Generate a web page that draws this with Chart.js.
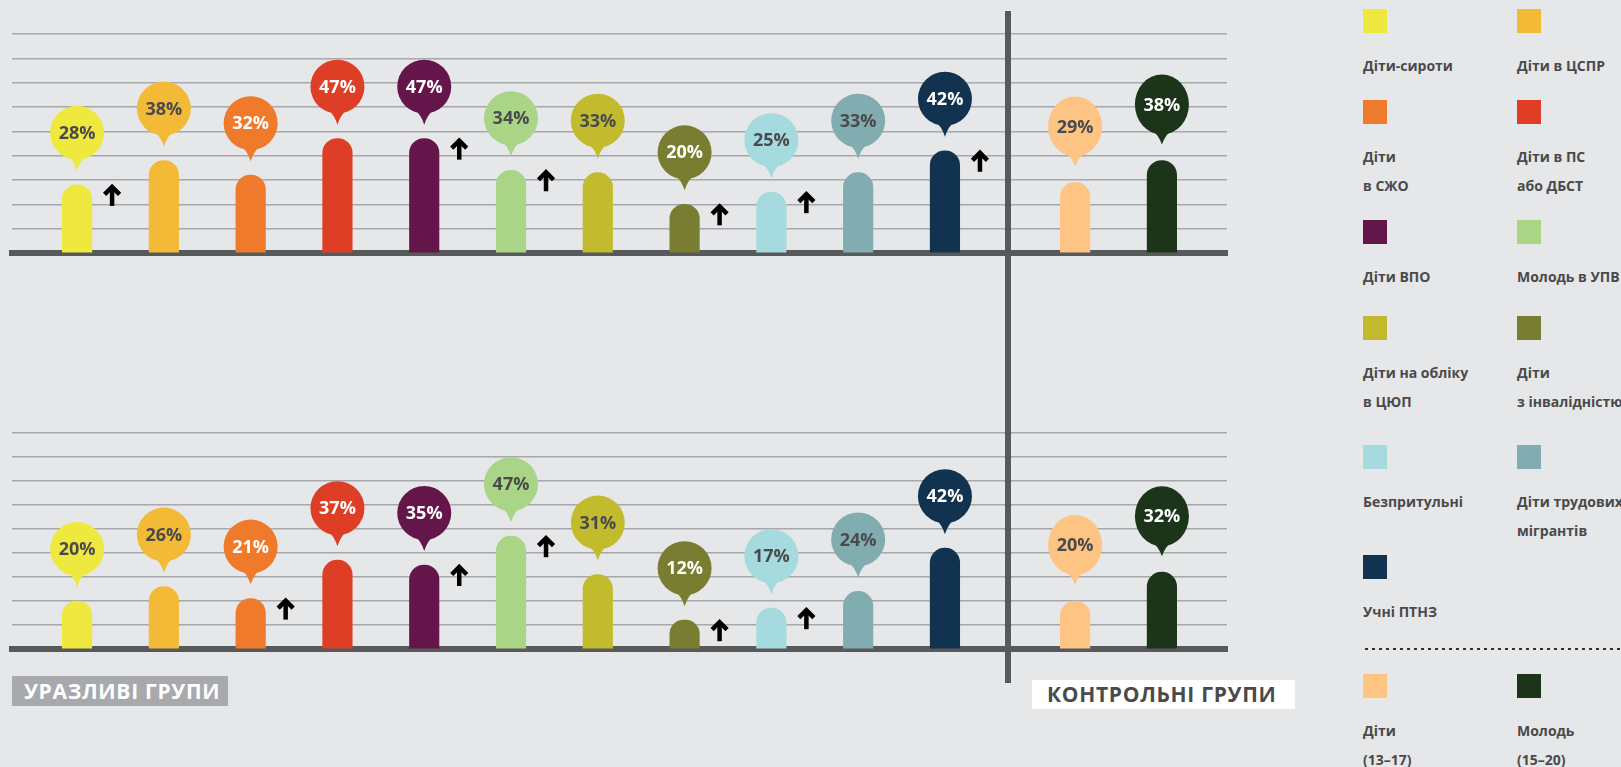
<!DOCTYPE html>
<html>
<head>
<meta charset="utf-8">
<script src="https://cdn.jsdelivr.net/npm/chart.js@4.4.1/dist/chart.umd.min.js"></script>
<style>
  body { margin: 0; background: #e6e7e8; width: 1621px; height: 767px; overflow: hidden; position: relative; font-family: 'Open Sans', sans-serif; }
  .panel { position: absolute; left: 0; width: 1250px; }
  #topPanel { top: 0; height: 262px; }
  #bottomPanel { top: 380px; height: 280px; }
  #divider { position: absolute; left: 1005px; top: 11px; width: 5.5px; height: 672px; background: #58595b; }
  .tag { position: absolute; font-weight: 700; font-size: 21px; line-height: 30px; letter-spacing: 0.7px; white-space: nowrap; }
  #tagVuln { left: 12px; top: 676px; width: 204px; height: 30px; padding-left: 12px; background: #a7a9ac; color: #fff; }
  #tagCtrl { left: 1032px; top: 680px; width: 248px; height: 29px; line-height: 29px; padding-left: 15px; background: #fff; color: #4a4a4c; }
  .lg-sq { position: absolute; width: 24px; height: 24px; }
  .lg-tx { position: absolute; font-weight: 700; font-size: 14px; line-height: 29px; color: #4a4a4c; white-space: nowrap; }
  #dots { position: absolute; left: 1363px; top: 647px; width: 258px; height: 4px;
          background: radial-gradient(circle, #2b2b2b 1.1px, transparent 1.5px) 0 0 / 7px 4px repeat-x; }
</style>
</head>
<body>
<div class="panel" id="topPanel"><canvas id="topChart"></canvas></div>
<div class="panel" id="bottomPanel"><canvas id="bottomChart"></canvas></div>
<div id="divider"></div>
<div class="tag" id="tagVuln">УРАЗЛИВІ ГРУПИ</div>
<div class="tag" id="tagCtrl">КОНТРОЛЬНІ ГРУПИ</div>
<div id="dots"></div>
<div id="legend"></div>
<script>
// групи
var groups = ['Діти-сироти', 'Діти в ЦСПР', 'Діти\nв СЖО', 'Діти в ПС\nабо ДБСТ', 'Діти ВПО', 'Молодь в УПВ',
              'Діти на обліку\nв ЦЮП', 'Діти\nз інвалідністю', 'Безпритульні', 'Діти трудових\nмігрантів', 'Учні ПТНЗ'];
var controlGroups = ['Діти\n(13–17)', 'Молодь\n(15–20)'];

var groupColors = ['#efe83e', '#f3ba37', '#f07a2c', '#de3e26', '#64154a', '#aad586',
                   '#c2bb2e', '#787d31', '#a5dadf', '#82adb0', '#12334f'];
var controlColors = ['#fdc484', '#1c351a'];

// колір тексту в бульбашках
var groupTextColors = ['#4a4a4c', '#4a4a4c', '#fff', '#fff', '#fff', '#4a4a4c',
                       '#4a4a4c', '#fff', '#4a4a4c', '#4a4a4c', '#fff'];
var controlTextColors = ['#4a4a4c', '#fff'];

// верхній графік
var topValues = [28, 38, 32, 47, 47, 34, 33, 20, 25, 33, 42];
var topControl = [29, 38];
var topArrows = [1, 0, 0, 0, 1, 1, 0, 1, 1, 0, 1];

// нижній графік
var bottomValues = [20, 26, 21, 37, 35, 47, 31, 12, 17, 24, 42];
var bottomControl = [20, 32];
var bottomArrows = [0, 0, 1, 0, 1, 1, 0, 1, 1, 0, 0];

var yMax = 90;
var yStep = 10;

// slots on the category axis: a spacer before every group, a wider gap before control groups
var SLOTS = 28;
function slotOf(i) { return 1 + 2 * i; }
function controlSlotOf(k) { return 24 + 2 * k; }

function spread(vals, ctrl) {
    var out = new Array(SLOTS).fill(null);
    vals.forEach(function (v, i) { out[slotOf(i)] = v; });
    ctrl.forEach(function (v, k) { out[controlSlotOf(k)] = v; });
    return out;
}

var labels = spread(groups, controlGroups).map(function (l) { return l ? l.replace('\n', ' ') : ''; });
var barColors = spread(groupColors, controlColors).map(function (c) { return c || 'transparent'; });
var pinTextColors = spread(groupTextColors, controlTextColors);
var isControl = spread(groups.map(function () { return false; }), controlGroups.map(function () { return true; }));

var pinPlugin = {
    id: 'pins',
    afterDatasetsDraw: function (chart, args, opts) {
        var ctx = chart.ctx;
        var meta = chart.getDatasetMeta(0);
        var data = chart.data.datasets[0].data;
        var arrows = spread(opts.arrows, [0, 0]);
        meta.data.forEach(function (bar, j) {
            var v = data[j];
            if (v === null) return;
            var x = bar.x, top = bar.y;
            var ctrl = isControl[j];
            var rx = 27, ry = ctrl ? 30 : 27;
            var cy = top - (ctrl ? 56 : 52);
            var tipY = top - (ctrl ? 16 : 14);
            ctx.save();
            ctx.fillStyle = barColors[j];
            ctx.beginPath();
            ctx.ellipse(x, cy, rx, ry, 0, 0, Math.PI * 2);
            ctx.fill();
            ctx.beginPath();
            ctx.moveTo(x - 11, cy + ry - 6);
            ctx.quadraticCurveTo(x - 3, cy + ry + 1, x, tipY);
            ctx.quadraticCurveTo(x + 3, cy + ry + 1, x + 11, cy + ry - 6);
            ctx.closePath();
            ctx.fill();
            ctx.fillStyle = pinTextColors[j];
            ctx.font = 'bold 18px "Open Sans"';
            ctx.textAlign = 'center';
            ctx.textBaseline = 'middle';
            ctx.fillText(v + '%', x, cy + 1);
            if (arrows[j]) {
                var ax = x + 35, ay = top;
                ctx.strokeStyle = '#000';
                ctx.lineWidth = 4.5;
                ctx.lineJoin = 'miter';
                ctx.beginPath();
                ctx.moveTo(ax - 7.5, ay + 9.5);
                ctx.lineTo(ax, ay + 2);
                ctx.lineTo(ax + 7.5, ay + 9.5);
                ctx.stroke();
                ctx.beginPath();
                ctx.moveTo(ax, ay + 3);
                ctx.lineTo(ax, ay + 21);
                ctx.stroke();
            }
            ctx.restore();
        });
    }
};

function makeChart(id, vals, ctrl, arrows, padTop, padBottom) {
    return new Chart(document.getElementById(id), {
        type: 'bar',
        data: {
            labels: labels,
            datasets: [{
                data: spread(vals, ctrl),
                backgroundColor: barColors,
                barThickness: 29.5,
                borderRadius: { topLeft: 15, topRight: 15, bottomLeft: 0, bottomRight: 0 },
                borderSkipped: 'bottom'
            }]
        },
        options: {
            responsive: true,
            maintainAspectRatio: false,
            animation: false,
            layout: { padding: { top: padTop, bottom: padBottom, left: 12, right: 23 } },
            plugins: {
                legend: { display: false },
                tooltip: { enabled: false },
                pins: { arrows: arrows }
            },
            scales: {
                x: {
                    ticks: { display: false },
                    grid: { display: false, drawTicks: false },
                    border: { display: true, color: '#58595b', width: 6 }
                },
                y: {
                    min: 0,
                    max: yMax,
                    ticks: { display: false, stepSize: yStep },
                    grid: { color: '#a6a8ab', lineWidth: 1.6, drawTicks: false },
                    border: { display: false }
                }
            }
        },
        plugins: [pinPlugin]
    });
}

makeChart('topChart', topValues, topControl, topArrows, 34, 9);
makeChart('bottomChart', bottomValues, bottomControl, bottomArrows, 53, 11);

// легенда
var rowTops = [9, 100, 220, 316, 445, 555, 674];
var colLefts = [1363, 1517];
var legendItems = groups.map(function (g, i) { return { name: g, color: groupColors[i] }; })
    .concat(controlGroups.map(function (g, i) { return { name: g, color: controlColors[i] }; }));
var legend = document.getElementById('legend');
legendItems.forEach(function (item, n) {
    var row = n < 11 ? Math.floor(n / 2) : 6;
    var col = n < 11 ? n % 2 : n - 11;
    var sq = document.createElement('div');
    sq.className = 'lg-sq';
    sq.style.left = colLefts[col] + 'px';
    sq.style.top = rowTops[row] + 'px';
    sq.style.background = item.color;
    legend.appendChild(sq);
    var tx = document.createElement('div');
    tx.className = 'lg-tx';
    tx.style.left = colLefts[col] + 'px';
    tx.style.top = (rowTops[row] + 42) + 'px';
    tx.innerHTML = item.name.split('\n').join('<br>');
    legend.appendChild(tx);
});
</script>
</body>
</html>
